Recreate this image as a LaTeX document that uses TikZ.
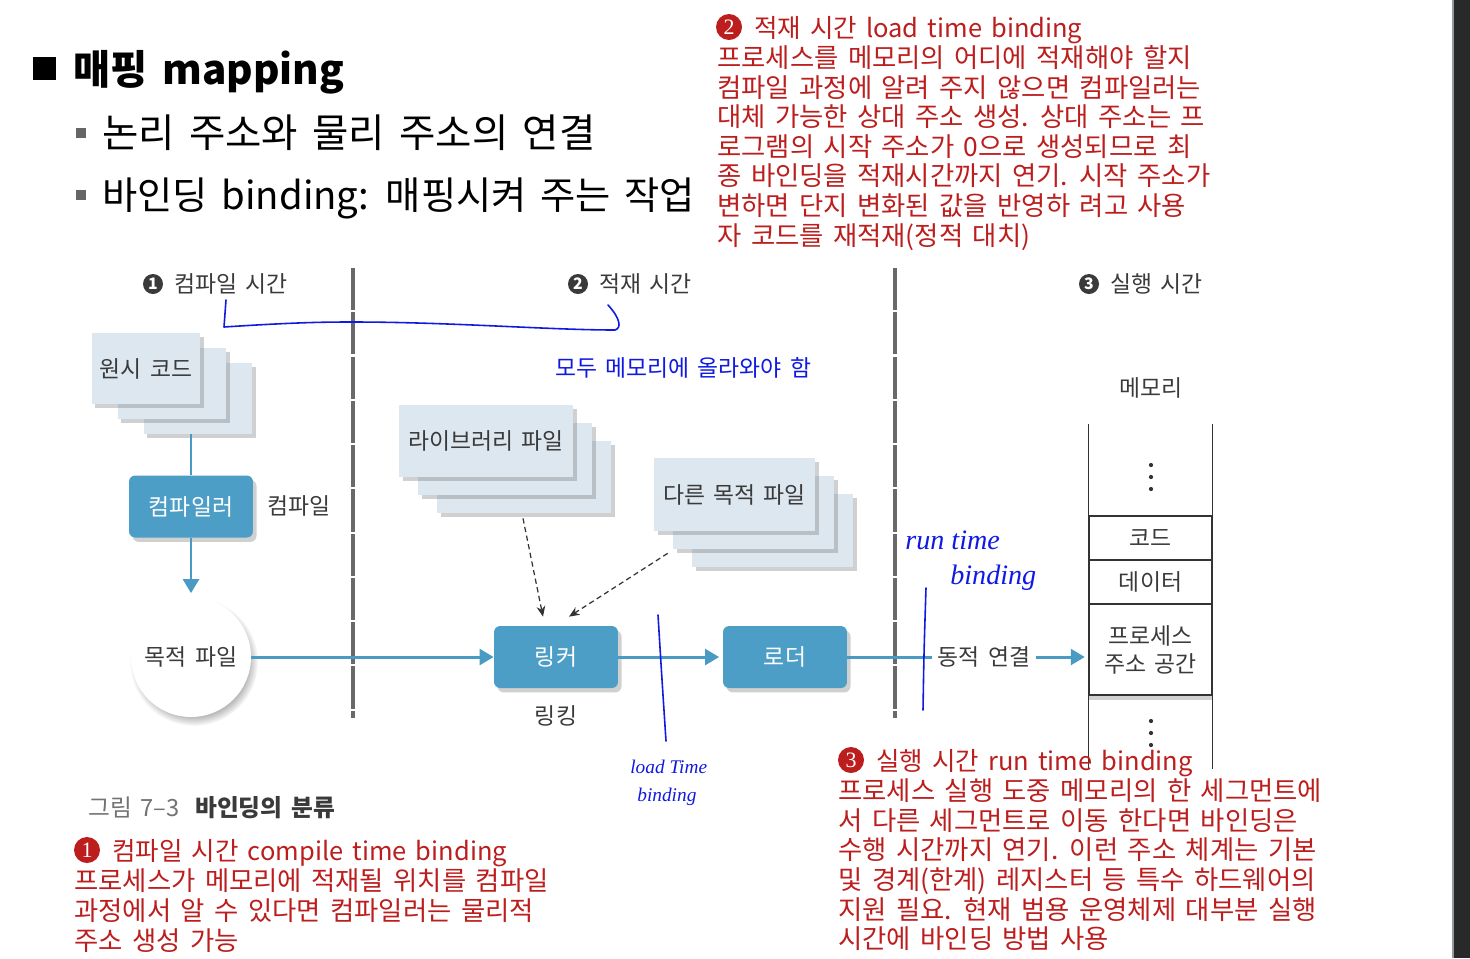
\documentclass[tikz,border=0pt]{standalone}
\usepackage{fontspec}
\usetikzlibrary{arrows.meta,shadows,calc}
\setmainfont{Noto Sans CJK KR}
\newfontfamily\kr{Noto Sans CJK KR}
\newfontfamily\krw[WordSpace=1.6]{Noto Sans CJK KR}
\newfontfamily\handlat{Liberation Serif}
\definecolor{redtxt}{RGB}{188,30,30}
\definecolor{boxfill}{RGB}{221,231,239}
\definecolor{bluebox}{RGB}{77,158,199}
\definecolor{connblue}{RGB}{74,155,196}
\definecolor{dtxt}{RGB}{58,58,58}
\definecolor{penblue}{RGB}{15,25,225}
\definecolor{sepgray}{RGB}{105,105,105}
\begin{document}
\begin{tikzpicture}[x=0.02cm,y=-0.02cm,
  redl/.style={anchor=base west, inner sep=0pt, yshift=-5.7pt, text=redtxt, font=\krw\fontsize{15}{17}\selectfont},
  redlat/.style={redl, font=\krw\fontsize{14.5}{17}\selectfont},
  rednum/.style={circle, fill=redtxt, text=white, inner sep=0pt, minimum size=0.52cm, font=\handlat\fontsize{12.5}{12.5}\selectfont},
  hdnum/.style={circle, fill=dtxt, text=white, inner sep=0pt, minimum size=0.40cm, font=\kr\bfseries\fontsize{9}{9}\selectfont},
  hdtxt/.style={anchor=base west, inner sep=0pt, yshift=-4.9pt, text=dtxt, font=\kr\fontsize{13}{15}\selectfont},
  diag/.style={text=dtxt, font=\kr\fontsize{13}{15.9}\selectfont, inner sep=0pt, align=center},
  pagebox/.style={fill=boxfill, draw=none, inner sep=0pt, text=dtxt, font=\kr\fontsize{13}{15}\selectfont,
     drop shadow={shadow xshift=2pt, shadow yshift=-2.5pt, opacity=0.3, fill=black!60}},
  bluenode/.style={fill=bluebox, rounded corners=3.5pt, inner sep=0pt, text=white,
     font=\kr\fontsize{13}{15}\selectfont, minimum width=2.48cm, minimum height=1.24cm,
     drop shadow={shadow xshift=2pt, shadow yshift=-2.5pt, opacity=0.3, fill=black!60}},
  flow/.style={draw=connblue, line width=1.7pt},
  flowarrow/.style={flow, -{Triangle[length=8pt,width=9pt]}},
  dasharrow/.style={draw=black!80, line width=0.7pt, dash pattern=on 3pt off 2pt, -{Stealth[length=6pt,width=5pt]}},
  sepline/.style={draw=sepgray, line width=2.3pt, dash pattern=on 24pt off 1.2pt},
  pen/.style={draw=penblue, line width=0.9pt, line cap=round, line join=round},
  pentext/.style={text=penblue, inner sep=0pt, anchor=west},
  memline/.style={draw=black!80, line width=0.8pt},
  memcell/.style={draw=black!80, line width=0.8pt, fill=white, minimum width=2.46cm, inner sep=0pt,
     text=dtxt, font=\kr\fontsize{13}{15.9}\selectfont, align=center}
]
\useasboundingbox (0,0) rectangle (1470,958);
\fill[white] (0,0) rectangle (1470,958);
\fill[black!84] (1453,0) rectangle (1470,958);
\draw[black!40, line width=0.6pt] (1453,0) -- (1453,958);

% ---------- heading ----------
\fill[black] (33,57) rectangle (56,80);
\node[anchor=base west, inner sep=0pt, yshift=-8.7pt, font=\kr\bfseries\fontsize{23}{26}\selectfont] (title) at (73,69) {매핑 mapping};
\fill[black!60] (76,128) rectangle (86,138);
\fill[black!60] (76,190) rectangle (86,200);
\node[anchor=base west, inner sep=0pt, yshift=-8.5pt, font=\krw\fontsize{22.5}{24}\selectfont] (b1) at (102,133) {논리 주소와 물리 주소의 연결};
\node[anchor=base west, inner sep=0pt, yshift=-8.3pt, font=\krw\fontsize{21.8}{24}\selectfont] (b2) at (102,195) {바인딩 binding: 매핑시켜 주는 작업};

% ---------- red block 2 ----------
\node[rednum] (r2n) at (729,27) {2};
\node[redlat] (r2a) at (754,27) {적재 시간 load time binding};
\node[redl] (r2b) at (717,57) {프로세스를 메모리의 어디에 적재해야 할지};
\node[redl] (r2c) at (717,87) {컴파일 과정에 알려 주지 않으면 컴파일러는};
\node[redl] (r2d) at (717,116) {대체 가능한 상대 주소 생성. 상대 주소는 프};
\node[redl] (r2e) at (717,146) {로그램의 시작 주소가 0으로 생성되므로 최};
\node[redl] (r2f) at (717,175) {종 바인딩을 적재시간까지 연기. 시작 주소가};
\node[redl] (r2g) at (717,205) {변하면 단지 변화된 값을 반영하 려고 사용};
\node[redl] (r2h) at (717,235) {자 코드를 재적재(정적 대치)};

% ---------- diagram headers ----------
\node[hdnum] (n1) at (153,284) {1};
\node[hdtxt] (h1) at (174,284) {컴파일 시간};
\node[hdnum] (n2) at (578,284) {2};
\node[hdtxt] (h2) at (599,284) {적재 시간};
\node[hdnum] (n3) at (1089,284) {3};
\node[hdtxt] (h3) at (1110,284) {실행 시간};

\draw[sepline] (353,268) -- (353,718);
\draw[sepline] (895,268) -- (895,718);

% ---------- source stack ----------
\node[pagebox, minimum width=2.18cm, minimum height=1.42cm] (src3) at (198,398.5) {};
\node[pagebox, minimum width=2.18cm, minimum height=1.42cm] (src2) at (172,383.5) {};
\node[pagebox, minimum width=2.18cm, minimum height=1.42cm] (src1) at (146,368.5) {원시 코드};

% ---------- library stack ----------
\node[pagebox, minimum width=3.48cm, minimum height=1.44cm] (lib3) at (524,477) {};
\node[pagebox, minimum width=3.48cm, minimum height=1.44cm] (lib2) at (505,459) {};
\node[pagebox, minimum width=3.48cm, minimum height=1.44cm] (lib1) at (486,441) {라이브러리 파일};

% ---------- other object stack ----------
\node[pagebox, minimum width=3.22cm, minimum height=1.46cm] (oth3) at (772.5,530.5) {};
\node[pagebox, minimum width=3.22cm, minimum height=1.46cm] (oth2) at (753.5,512.5) {};
\node[pagebox, minimum width=3.22cm, minimum height=1.46cm] (oth1) at (734.5,494.5) {다른 목적 파일};

% ---------- main flow ----------
\node[bluenode] (comp) at (191,506.5) {컴파일러};
\node[diag] (complbl) at (299,506) {컴파일};
\node[circle, fill=white, minimum size=2.4cm, inner sep=0pt, text=dtxt, font=\kr\fontsize{13}{15}\selectfont,
      circular drop shadow={shadow xshift=1.5pt, shadow yshift=-2.5pt, opacity=0.55, shadow scale=1.07}] (obj) at (191,657) {목적 파일};
\node[bluenode] (lnk) at (556,657) {링커};
\node[diag] (lnklbl) at (556,716) {링킹};
\node[bluenode] (ldr) at (785,657) {로더};
\node[diag, inner sep=3pt] (dyn) at (984,657) {동적 연결};

% ---------- memory ----------
\node[diag] (memlbl) at (1151,388) {메모리};
\node[memcell, minimum height=0.88cm] (code) at (1150.5,538) {코드};
\node[memcell, minimum height=0.88cm] (data) at (1150.5,582) {데이터};
\node[memcell, minimum height=1.82cm, drop shadow={shadow xshift=0pt, shadow yshift=-3pt, opacity=0.3, fill=black!60}] (proc) at (1150.5,649.5) {프로세스\\주소 공간};
\draw[memline] (code.north west) -- ++(0,-91);
\draw[memline] (code.north east) -- ++(0,-91);
\draw[memline] (proc.south west) -- ++(0,73);
\draw[memline] (proc.south east) -- ++(0,73);
\foreach \yy in {465,477,489,721,733,745} \fill[black!80] (1151,\yy) circle (1.2pt);

% ---------- connectors ----------
\draw[flow] (comp.north) -- (comp.north |- src3.south);
\draw[flowarrow, shorten >=2pt] (comp.south) -- (obj.north);
\draw[flowarrow] (obj.east) -- (lnk.west);
\draw[flowarrow, shorten >=2pt] (lnk.east) -- (ldr.west);
\draw[flow] (ldr.east) -- (dyn.west);
\draw[flowarrow, shorten >=2pt] (dyn.east) -- (dyn.east -| proc.west);
\draw[dasharrow] ($(lib3.south)+(-1,5)$) -- ($(lnk.north)+(-13,-9)$);
\draw[dasharrow] ($(oth2.south west)+(-5,4)$) -- ($(lnk.north)+(13,-9)$);

% ---------- caption ----------
\node[anchor=base west, inner sep=0pt, yshift=-5.1pt, font=\kr\fontsize{13.5}{14}\selectfont, text=black!55] (cap1) at (88,808) {그림 7–3};
\node[anchor=base west, inner sep=0pt, yshift=-5.1pt, font=\kr\bfseries\fontsize{13.5}{14}\selectfont, text=dtxt] (cap2) at (195,808) {바인딩의 분류};

% ---------- red block 1 ----------
\node[rednum] (r1n) at (87,850) {1};
\node[redlat] (r1a) at (112,850) {컴파일 시간 compile time binding};
\node[redl] (r1b) at (74,880) {프로세스가 메모리에 적재될 위치를 컴파일};
\node[redl] (r1c) at (74,910) {과정에서 알 수 있다면 컴파일러는 물리적};
\node[redl] (r1d) at (74,940) {주소 생성 가능};

% ---------- red block 3 ----------
\node[rednum] (r3n) at (851,760) {3};
\node[redlat] (r3a) at (876,760) {실행 시간 run time binding};
\node[redl] (r3b) at (838,790) {프로세스 실행 도중 메모리의 한 세그먼트에};
\node[redl] (r3c) at (838,820) {서 다른 세그먼트로 이동 한다면 바인딩은};
\node[redl] (r3d) at (838,849) {수행 시간까지 연기. 이런 주소 체계는 기본};
\node[redl] (r3e) at (838,879) {및 경계(한계) 레지스터 등 특수 하드웨어의};
\node[redl] (r3f) at (838,909) {지원 필요. 현재 범용 운영체제 대부분 실행};
\node[redl] (r3g) at (838,938) {시간에 바인딩 방법 사용};

% ---------- handwritten notes ----------
\draw[pen] (226,300) -- (224,327) .. controls (300,322) and (330,322) .. (353,322)
   .. controls (450,322) and (550,330) .. (615,330) .. controls (622,328) and (620,318) .. (608,305);
\node[pentext, font=\kr\fontsize{13}{14}\selectfont] (memo) at (555,368) {모두 메모리에 올라와야 함};
\draw[pen] (658,615) .. controls (662,680) .. (666,741);
\node[pentext, font=\handlat\itshape\fontsize{11}{12}\selectfont] (lt1) at (630,767) {load Time};
\node[pentext, font=\handlat\itshape\fontsize{11}{12}\selectfont] (lt2) at (637,797) {binding};
\draw[pen] (926,588) .. controls (924,650) .. (923,710);
\node[pentext, font=\handlat\itshape\fontsize{16}{16}\selectfont] (rt1) at (905,540) {run time};
\node[pentext, font=\handlat\itshape\fontsize{16}{16}\selectfont] (rt2) at (950,578) {binding};
\end{tikzpicture}
\end{document}
